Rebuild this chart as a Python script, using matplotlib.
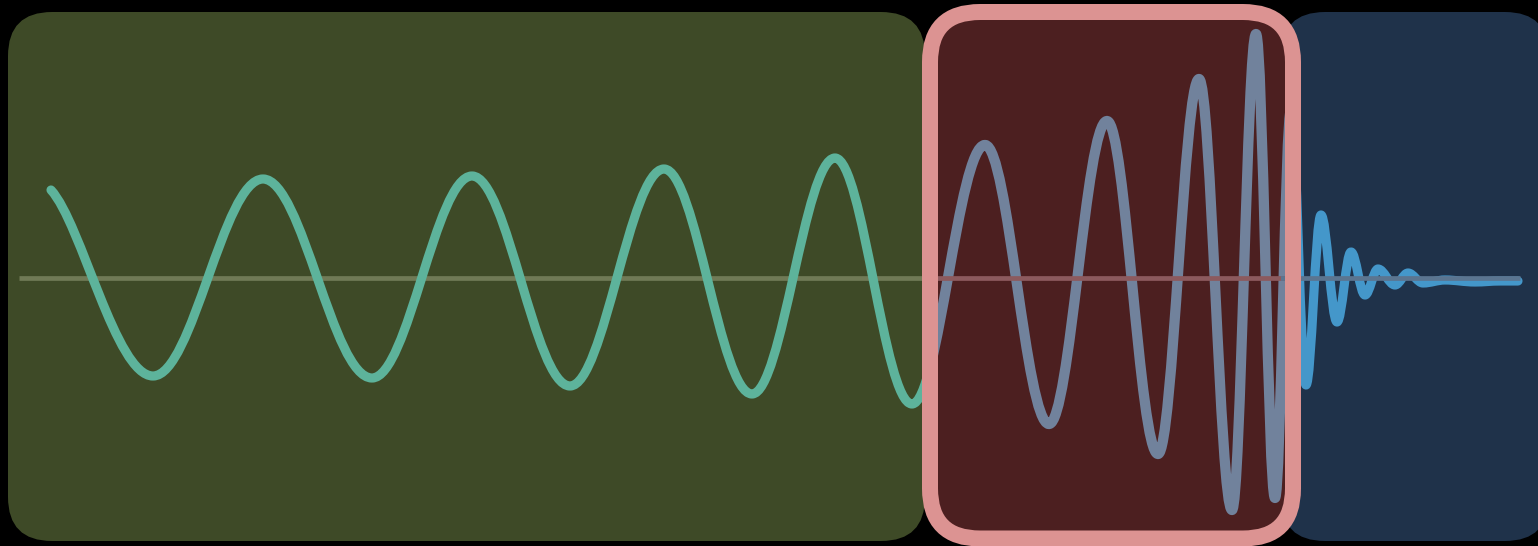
import matplotlib
matplotlib.use("Agg")
import matplotlib.pyplot as plt
from matplotlib.path import Path
from matplotlib.patches import PathPatch, FancyBboxPatch, Rectangle

# turning points of the chirp
# time axis: arbitrary units, strain: arbitrary units (0 = baseline)
time = [0.51, 1.53, 2.63, 3.72, 4.72, 5.70, 6.64, 7.52, 8.35, 9.12,
        9.85, 10.49, 11.07, 11.58, 11.99, 12.32, 12.56, 12.75, 12.91,
        13.06, 13.21, 13.37, 13.51, 13.65, 13.78, 13.95, 14.08, 14.23,
        14.45, 14.75, 15.00, 15.18]
strain = [0.88, -0.98, 0.99, -1.00, 1.02, -1.08, 1.09, -1.16, 1.20, -1.26,
          1.33, -1.46, 1.57, -1.76, 1.99, -2.32, 2.44, -2.20, 1.68,
          -1.07, 0.63, -0.44, 0.26, -0.17, 0.09, -0.07, 0.05, -0.05,
          -0.02, -0.04, -0.03, -0.03]

# extent of the baseline
baseline_start = 0.19
baseline_end = 15.20

# colours of the three phases
phases = ["inspiral", "merger", "ringdown"]
panel_colors = {"inspiral": "#3e4a27", "merger": "#4c1f20", "ringdown": "#1f324a"}
wave_colors = {"inspiral": "#5db39b", "merger": "#71829c", "ringdown": "#4497ca"}
base_colors = {"inspiral": "#707a56", "merger": "#8c5a5e", "ringdown": "#5b7590"}
border_color = "#dc9392"


def chirp_path(t, h, c=0.364):
    """Smooth path through the turning points (flat tangents at each peak)"""
    verts = [(t[0], h[0])]
    codes = [Path.MOVETO]
    for i in range(1, len(t)):
        dt = t[i] - t[i - 1]
        if i == 1:
            # the trace starts on a falling flank, not on a peak
            p1 = (t[0] + 0.3 * dt, h[0] + 0.18 * (h[1] - h[0]))
        else:
            p1 = (t[i - 1] + c * dt, h[i - 1])
        p2 = (t[i] - c * dt, h[i])
        verts += [p1, p2, (t[i], h[i])]
        codes += [Path.CURVE4] * 3
    return Path(verts, codes)


def draw_chirp():
    """Draw the chirp over three rounded panels"""
    dpi = 100
    fig = plt.figure(figsize=(15.38, 5.46), dpi=dpi, facecolor="black")
    ax = fig.add_axes([0, 0, 1, 1])
    ax.set_facecolor("black")
    ax.set_xlim(0, 15.38)
    ax.set_ylim(-2.68, 2.78)
    ax.axis("off")

    # rounded panels, one per phase
    boxes = {
        "inspiral": (0.08, -2.63, 9.17, 5.29, 0.44),
        "ringdown": (12.81, -2.63, 2.68, 5.29, 0.44),
        "merger": (9.30, -2.605, 3.63, 5.265, 0.50),
    }
    panels = {}
    for z, name in enumerate(["inspiral", "ringdown", "merger"]):
        x0, y0, w, hgt, r = boxes[name]
        p = FancyBboxPatch((x0, y0), w, hgt,
                           boxstyle="round,pad=0,rounding_size=%s" % r,
                           facecolor=panel_colors[name], edgecolor="none",
                           zorder=1 + z * 0.1)
        ax.add_patch(p)
        panels[name] = p

    # ringdown trace only shows right of the merger frame
    mx0, my0, mw, mh, mr = boxes["merger"]
    rx0, ry0, rw, rh, rr = boxes["ringdown"]
    ring_clip = Rectangle((mx0 + mw, ry0), rx0 + rw - (mx0 + mw), rh,
                          facecolor="none", edgecolor="none")
    ax.add_patch(ring_clip)
    clips = {"inspiral": panels["inspiral"], "merger": panels["merger"],
             "ringdown": ring_clip}

    # the waveform, coloured by the panel it sits in
    path = chirp_path(time, strain)
    widths = {"inspiral": 6.6, "merger": 7.4, "ringdown": 6.6}
    for name in phases:
        wave = PathPatch(path, facecolor="none", edgecolor=wave_colors[name],
                         linewidth=widths[name], capstyle="round",
                         joinstyle="round", zorder=3)
        ax.add_patch(wave)
        wave.set_clip_path(clips[name])

        # baseline sits under the inspiral trace, over the others
        zb = 2 if name == "inspiral" else 4
        line = ax.hlines(0, baseline_start, baseline_end,
                         colors=base_colors[name], linewidth=3.4, zorder=zb)
        line.set_clip_path(panels[name])

    # thick pink frame around the merger panel
    frame = FancyBboxPatch((mx0, my0), mw, mh,
                           boxstyle="round,pad=0,rounding_size=%s" % mr,
                           facecolor="none", edgecolor=border_color,
                           linewidth=16 * 72 / dpi, zorder=5)
    ax.add_patch(frame)

    fig.savefig("out.png", dpi=dpi, facecolor="black")


if __name__ == "__main__":
    draw_chirp()
